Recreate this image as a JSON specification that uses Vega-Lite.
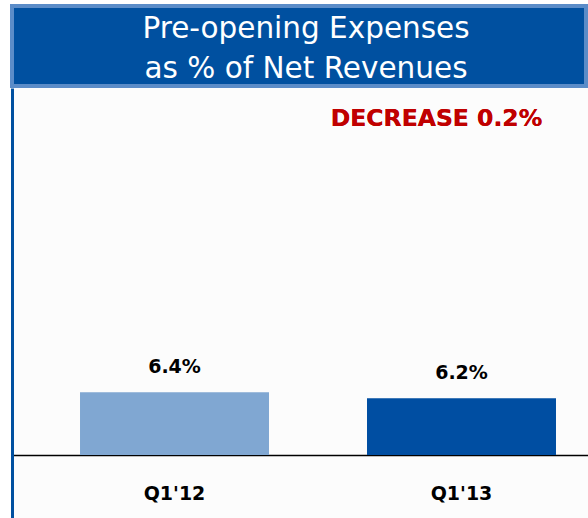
{
  "$schema": "https://vega.github.io/schema/vega-lite/v6.json",
  "padding": {"left": 10, "top": 4, "right": 0, "bottom": 0},
  "background": "white",
  "spacing": 0,
  "config": {"font": "DejaVu Sans", "view": {"stroke": null}},
  "vconcat": [
    {
      "width": 574,
      "height": 80,
      "view": {"fill": "#0050A0", "stroke": "#5B8CC8", "strokeWidth": 4},
      "data": {"values": [{"title": "header"}]},
      "mark": {"type": "text", "color": "white", "fontSize": 29.5, "lineHeight": 39.5, "baseline": "middle", "dy": -17, "dx": 7},
      "encoding": {"text": {"value": ["Pre-opening Expenses", "as % of Net Revenues"]}}
    },
    {
      "width": 576,
      "height": 430,
      "view": {"fill": "#FCFCFC"},
      "data": {"values": [{"quarter": "Q1'12", "pct": 6.4}, {"quarter": "Q1'13", "pct": 6.2}]},
      "transform": [{"calculate": "format(datum.pct, '.1f') + '%'", "as": "label"}],
      "encoding": {
        "x": {
          "field": "quarter", "type": "nominal", "sort": null,
          "scale": {"paddingInner": 0.3415, "paddingOuter": 0.17425, "align": 0.68},
          "axis": {"title": null, "orient": "bottom", "offset": -63, "domainColor": "black", "domainWidth": 1.5, "ticks": false, "labelAngle": 0, "labelFontSize": 19, "labelFontWeight": "bold", "labelColor": "black", "labelPadding": 29}
        }
      },
      "layer": [
        {
          "mark": {"type": "bar"},
          "encoding": {
            "y": {"field": "pct", "type": "quantitative", "scale": {"domain": [2.21, 16.543], "zero": false, "nice": false},
                  "axis": {"domainColor": "#0050A0", "domainWidth": 3, "labels": false, "ticks": false, "grid": false, "title": null}},
            "y2": {"datum": 4.31},
            "color": {"field": "quarter", "type": "nominal", "scale": {"range": ["#80A7D2", "#004EA2"]}, "legend": null}
          }
        },
        {
          "mark": {"type": "text", "fontWeight": "bold", "fontSize": 19, "dy": -19, "baseline": "alphabetic", "color": "black"},
          "encoding": {
            "y": {"field": "pct", "type": "quantitative"},
            "text": {"field": "label"}
          }
        },
        {
          "mark": {"type": "text", "fontWeight": "bold", "fontSize": 23.5, "dx": -25, "baseline": "alphabetic", "color": "#C00000"},
          "encoding": {
            "x": {"datum": "Q1'13"},
            "y": {"datum": 15.286},
            "text": {"value": "DECREASE 0.2%"}
          }
        }
      ]
    }
  ]
}
